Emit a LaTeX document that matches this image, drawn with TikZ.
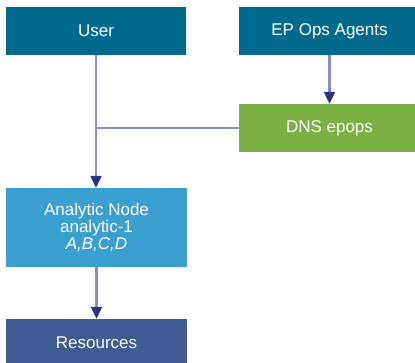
\documentclass[tikz,border=0pt]{standalone}
\usepackage{fontspec}
\setmainfont{Liberation Sans}
\usetikzlibrary{arrows.meta}
\definecolor{teal}{HTML}{006A8E}
\definecolor{dnsgreen}{HTML}{7AB142}
\definecolor{anblue}{HTML}{3B9FD1}
\definecolor{resblue}{HTML}{3E5C92}
\definecolor{lineclr}{HTML}{8A8AC8}
\definecolor{tipclr}{HTML}{2E2E8C}
\tikzset{
  box/.style={rectangle, minimum width=181pt, minimum height=48pt, inner sep=0pt,
    text=white, font=\fontsize{17}{17}\selectfont, align=center},
  conn/.style={draw=lineclr, line width=2.2pt, -{Triangle[length=12pt,width=11pt,color=tipclr,fill=tipclr]}},
  plain/.style={draw=lineclr, line width=2.2pt}
}
\begin{document}
\begin{tikzpicture}[x=1pt,y=-1pt]
\useasboundingbox (0,0) rectangle (415,362);
\clip (0,0) rectangle (415,362);
\node[box, fill=teal, minimum width=180pt] (user) at (96,31) {User};
\node[box, fill=teal] (ep) at (329.5,31) {EP Ops Agents};
\node[box, fill=dnsgreen] (dns) at (329.5,128) {DNS epops};
\node[box, fill=anblue, minimum height=79pt] (an) at (96.5,227.5) {Analytic Node\\analytic-1\\\textit{A,B,C,D}};
\node[box, fill=resblue] (res) at (96.5,343) {Resources};
\draw[conn] (user.south) -- (user.south |- an.north);
\draw[plain] (dns.west) -- (dns.west -| user.south);
\draw[conn] (ep.south) -- (dns.north);
\draw[conn] (an.south) -- (res.north);
\end{tikzpicture}
\end{document}
